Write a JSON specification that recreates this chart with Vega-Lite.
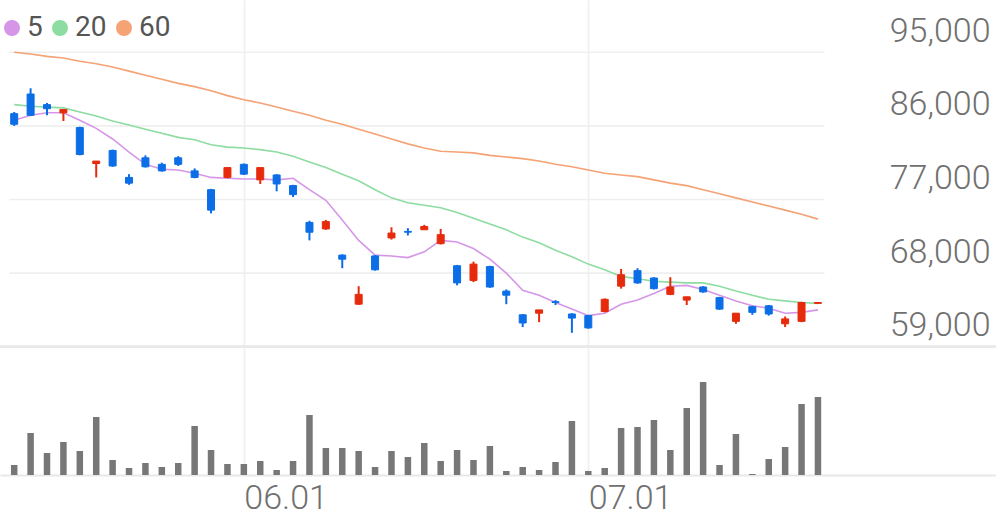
{
  "$schema": "https://vega.github.io/schema/vega-lite/v6.json",
  "width": 996,
  "height": 475,
  "autosize": {"type": "none"},
  "padding": {"left": 0, "top": 0, "right": 0, "bottom": 44},
  "config": {"view": {"stroke": null}, "font": "Roboto"},
  "datasets": {
    "daily": [
      {"i": 0, "date": "2023-05-11", "o": 87500, "h": 87700, "l": 86000, "c": 86200, "v": 1000000, "ma5": 86700, "ma20": 88600, "ma60": 95000},
      {"i": 1, "date": "2023-05-12", "o": 89900, "h": 90600, "l": 87200, "c": 87300, "v": 4200000, "ma5": 87300, "ma20": 88400, "ma60": 94800},
      {"i": 2, "date": "2023-05-15", "o": 88600, "h": 88800, "l": 87300, "c": 88100, "v": 2200000, "ma5": 87600, "ma20": 88300, "ma60": 94500},
      {"i": 3, "date": "2023-05-16", "o": 87600, "h": 88000, "l": 86600, "c": 88000, "v": 3300000, "ma5": 87600, "ma20": 88200, "ma60": 94300},
      {"i": 4, "date": "2023-05-17", "o": 85800, "h": 85900, "l": 82400, "c": 82500, "v": 2400000, "ma5": 86700, "ma20": 87700, "ma60": 93900},
      {"i": 5, "date": "2023-05-18", "o": 81400, "h": 81700, "l": 79700, "c": 81700, "v": 5800000, "ma5": 85700, "ma20": 87200, "ma60": 93600},
      {"i": 6, "date": "2023-05-19", "o": 83000, "h": 83100, "l": 81000, "c": 81100, "v": 1500000, "ma5": 84400, "ma20": 86600, "ma60": 93200},
      {"i": 7, "date": "2023-05-22", "o": 79700, "h": 80100, "l": 78800, "c": 79000, "v": 700000, "ma5": 82800, "ma20": 86100, "ma60": 92700},
      {"i": 8, "date": "2023-05-23", "o": 82100, "h": 82400, "l": 80900, "c": 81000, "v": 1200000, "ma5": 81300, "ma20": 85600, "ma60": 92200},
      {"i": 9, "date": "2023-05-24", "o": 81300, "h": 81500, "l": 80400, "c": 80500, "v": 800000, "ma5": 80700, "ma20": 85100, "ma60": 91700},
      {"i": 10, "date": "2023-05-25", "o": 82100, "h": 82300, "l": 81100, "c": 81300, "v": 1200000, "ma5": 80600, "ma20": 84600, "ma60": 91200},
      {"i": 11, "date": "2023-05-26", "o": 80500, "h": 80800, "l": 79600, "c": 79700, "v": 4900000, "ma5": 80200, "ma20": 84300, "ma60": 90800},
      {"i": 12, "date": "2023-05-30", "o": 78200, "h": 78300, "l": 75300, "c": 75700, "v": 2500000, "ma5": 79700, "ma20": 83700, "ma60": 90300},
      {"i": 13, "date": "2023-05-31", "o": 79700, "h": 80900, "l": 79600, "c": 80900, "v": 1100000, "ma5": 79600, "ma20": 83400, "ma60": 89700},
      {"i": 14, "date": "2023-06-01", "o": 81300, "h": 81400, "l": 80000, "c": 80100, "v": 1100000, "ma5": 79500, "ma20": 83300, "ma60": 89200},
      {"i": 15, "date": "2023-06-02", "o": 79400, "h": 80900, "l": 78900, "c": 80900, "v": 1400000, "ma5": 79500, "ma20": 83100, "ma60": 88800},
      {"i": 16, "date": "2023-06-05", "o": 80000, "h": 80100, "l": 78000, "c": 78900, "v": 500000, "ma5": 79400, "ma20": 82800, "ma60": 88300},
      {"i": 17, "date": "2023-06-07", "o": 78700, "h": 78800, "l": 77300, "c": 77600, "v": 1400000, "ma5": 79600, "ma20": 82300, "ma60": 87800},
      {"i": 18, "date": "2023-06-08", "o": 74200, "h": 74400, "l": 72000, "c": 73000, "v": 6000000, "ma5": 78200, "ma20": 81600, "ma60": 87300},
      {"i": 19, "date": "2023-06-09", "o": 73400, "h": 74500, "l": 73300, "c": 74300, "v": 2700000, "ma5": 76900, "ma20": 80900, "ma60": 86700},
      {"i": 20, "date": "2023-06-12", "o": 70200, "h": 70300, "l": 68600, "c": 69700, "v": 2700000, "ma5": 74500, "ma20": 80100, "ma60": 86200},
      {"i": 21, "date": "2023-06-13", "o": 64200, "h": 66400, "l": 64100, "c": 65400, "v": 2400000, "ma5": 72000, "ma20": 79300, "ma60": 85600},
      {"i": 22, "date": "2023-06-14", "o": 70100, "h": 70200, "l": 68300, "c": 68400, "v": 800000, "ma5": 70200, "ma20": 78200, "ma60": 85000},
      {"i": 23, "date": "2023-06-15", "o": 72300, "h": 73600, "l": 72100, "c": 72900, "v": 2400000, "ma5": 70100, "ma20": 77200, "ma60": 84400},
      {"i": 24, "date": "2023-06-16", "o": 73100, "h": 73500, "l": 72600, "c": 73000, "v": 1800000, "ma5": 69900, "ma20": 76600, "ma60": 83800},
      {"i": 25, "date": "2023-06-19", "o": 73300, "h": 73900, "l": 73300, "c": 73700, "v": 3200000, "ma5": 70600, "ma20": 76300, "ma60": 83300},
      {"i": 26, "date": "2023-06-20", "o": 71600, "h": 73400, "l": 71500, "c": 72700, "v": 1400000, "ma5": 72000, "ma20": 76000, "ma60": 82900},
      {"i": 27, "date": "2023-06-21", "o": 68900, "h": 69000, "l": 66500, "c": 66800, "v": 2500000, "ma5": 71800, "ma20": 75400, "ma60": 82800},
      {"i": 28, "date": "2023-06-22", "o": 67100, "h": 69400, "l": 66900, "c": 69100, "v": 1500000, "ma5": 71000, "ma20": 74700, "ma60": 82700},
      {"i": 29, "date": "2023-06-23", "o": 68800, "h": 68900, "l": 66200, "c": 66300, "v": 2900000, "ma5": 69700, "ma20": 74000, "ma60": 82400},
      {"i": 30, "date": "2023-06-26", "o": 65800, "h": 66000, "l": 64200, "c": 65300, "v": 400000, "ma5": 68000, "ma20": 73300, "ma60": 82200},
      {"i": 31, "date": "2023-06-27", "o": 62900, "h": 63000, "l": 61400, "c": 61900, "v": 800000, "ma5": 65900, "ma20": 72400, "ma60": 82000},
      {"i": 32, "date": "2023-06-28", "o": 63100, "h": 63500, "l": 62000, "c": 63500, "v": 500000, "ma5": 65300, "ma20": 71700, "ma60": 81700},
      {"i": 33, "date": "2023-06-29", "o": 64500, "h": 64700, "l": 64100, "c": 64400, "v": 1300000, "ma5": 64400, "ma20": 70800, "ma60": 81300},
      {"i": 34, "date": "2023-06-30", "o": 63000, "h": 63100, "l": 60700, "c": 62500, "v": 5400000, "ma5": 63600, "ma20": 70000, "ma60": 81000},
      {"i": 35, "date": "2023-07-03", "o": 62800, "h": 62900, "l": 61200, "c": 61300, "v": 400000, "ma5": 62800, "ma20": 69100, "ma60": 80600},
      {"i": 36, "date": "2023-07-04", "o": 63300, "h": 64900, "l": 63200, "c": 64800, "v": 700000, "ma5": 63100, "ma20": 68400, "ma60": 80200},
      {"i": 37, "date": "2023-07-05", "o": 66400, "h": 68500, "l": 66100, "c": 67800, "v": 4700000, "ma5": 64200, "ma20": 67600, "ma60": 80000},
      {"i": 38, "date": "2023-07-06", "o": 68300, "h": 68600, "l": 66700, "c": 66800, "v": 4800000, "ma5": 64700, "ma20": 67300, "ma60": 79800},
      {"i": 39, "date": "2023-07-07", "o": 67400, "h": 67500, "l": 66000, "c": 66100, "v": 5500000, "ma5": 65500, "ma20": 67000, "ma60": 79400},
      {"i": 40, "date": "2023-07-10", "o": 65400, "h": 67500, "l": 65300, "c": 66300, "v": 2500000, "ma5": 66400, "ma20": 66900, "ma60": 79000},
      {"i": 41, "date": "2023-07-11", "o": 64700, "h": 65100, "l": 64100, "c": 65100, "v": 6700000, "ma5": 66500, "ma20": 66800, "ma60": 78700},
      {"i": 42, "date": "2023-07-12", "o": 66300, "h": 66400, "l": 65600, "c": 65700, "v": 9300000, "ma5": 66000, "ma20": 66800, "ma60": 78200},
      {"i": 43, "date": "2023-07-13", "o": 65000, "h": 65100, "l": 63500, "c": 63600, "v": 1000000, "ma5": 65300, "ma20": 66400, "ma60": 77700},
      {"i": 44, "date": "2023-07-14", "o": 62100, "h": 63100, "l": 61800, "c": 63100, "v": 4100000, "ma5": 64600, "ma20": 65800, "ma60": 77200},
      {"i": 45, "date": "2023-07-17", "o": 63900, "h": 64000, "l": 62900, "c": 63200, "v": 100000, "ma5": 64000, "ma20": 65300, "ma60": 76700},
      {"i": 46, "date": "2023-07-18", "o": 64000, "h": 64100, "l": 62800, "c": 63000, "v": 1600000, "ma5": 63700, "ma20": 64800, "ma60": 76200},
      {"i": 47, "date": "2023-07-19", "o": 61800, "h": 62700, "l": 61400, "c": 62400, "v": 2800000, "ma5": 63100, "ma20": 64600, "ma60": 75700},
      {"i": 48, "date": "2023-07-20", "o": 62100, "h": 64500, "l": 62000, "c": 64400, "v": 7100000, "ma5": 63200, "ma20": 64400, "ma60": 75200},
      {"i": 49, "date": "2023-07-21", "o": 64300, "h": 64400, "l": 64300, "c": 64400, "v": 7800000, "ma5": 63500, "ma20": 64300, "ma60": 74600}
    ],
    "ticks": [{"p": 68000}, {"p": 77000}, {"p": 86000}, {"p": 95000}]
  },
  "data": {"name": "daily"},
  "resolve": {"scale": {"y": "independent"}},
  "layer": [
    {
      "layer": [
        {
          "data": {"name": "ticks"},
          "mark": {"type": "rule", "color": "#efefef", "strokeWidth": 1.6},
          "encoding": {
            "y": {
              "field": "p",
              "type": "quantitative",
              "title": null,
              "scale": {"domain": [43312, 101395], "nice": false, "zero": false},
              "axis": {
                "orient": "right",
                "values": [59000, 68000, 77000, 86000, 95000],
                "labelExpr": "format(datum.value, ',')",
                "grid": false,
                "domain": false,
                "ticks": false,
                "labelAlign": "right",
                "labelPadding": -6,
                "labelBaseline": "alphabetic",
                "labelOffset": -11,
                "labelFont": "Roboto",
                "labelFontSize": 34,
                "labelFontWeight": 300,
                "labelColor": "#707070",
                "title": null
              }
            },
            "x": {"datum": -0.3, "type": "quantitative"},
            "x2": {"datum": 49.4}
          }
        },
        {
          "mark": {"type": "rule", "color": "#e9e9e9", "strokeWidth": 2},
          "encoding": {"y": {"datum": 59000, "type": "quantitative"}}
        },
        {
          "transform": [{"fold": ["ma60", "ma20", "ma5"], "as": ["key", "val"]}],
          "mark": {"type": "line", "strokeWidth": 1.6},
          "encoding": {
            "x": {"field": "i", "type": "quantitative", "title": null},
            "y": {"field": "val", "type": "quantitative", "title": null},
            "color": {
              "field": "key",
              "type": "nominal",
              "scale": {"domain": ["ma5", "ma20", "ma60"], "range": ["#d596e8", "#8ddca1", "#f5a275"]},
              "legend": {
                "orient": "none",
                "legendX": -2,
                "legendY": 14,
                "direction": "horizontal",
                "title": null,
                "symbolType": "circle",
                "symbolSize": 64,
                "symbolStrokeWidth": 8,
                "symbolOpacity": 1,
                "labelExpr": "replace(datum.label, 'ma', '')",
                "labelFont": "Roboto",
                "labelFontSize": 28,
                "labelColor": "#555555",
                "labelOffset": 1,
                "columnPadding": -3
              }
            }
          }
        },
        {
          "mark": {"type": "rule", "strokeWidth": 2},
          "encoding": {
            "x": {"field": "i", "type": "quantitative", "title": null},
            "y": {"field": "l", "type": "quantitative", "title": null},
            "y2": {"field": "h"},
            "color": {"condition": {"test": "datum.c > datum.o", "value": "#e62b0c"}, "value": "#0b6ee6"}
          }
        },
        {
          "mark": {"type": "bar", "strokeWidth": 1},
          "encoding": {
            "x": {
              "field": "i",
              "type": "quantitative",
              "title": null,
              "scale": {"domain": [-0.561, 59.55], "nice": false, "zero": false},
              "axis": {
                "values": [14, 35],
                "labelExpr": "datum.value == 14 ? '06.01' : '07.01'",
                "grid": true,
                "gridColor": "#efefef",
                "gridWidth": 1.6,
                "ticks": false,
                "domainColor": "#e8e8e8",
                "domainWidth": 2,
                "labelAlign": "left",
                "labelBaseline": "alphabetic",
                "labelPadding": 33,
                "labelFont": "Roboto",
                "labelFontSize": 34,
                "labelFontWeight": 300,
                "labelColor": "#707070",
                "labelFlush": false,
                "title": null
              }
            },
            "y": {"field": "o", "type": "quantitative", "title": null},
            "y2": {"field": "c"},
            "size": {"value": 7},
            "color": {"condition": {"test": "datum.c > datum.o", "value": "#e62b0c"}, "value": "#0b6ee6"},
            "stroke": {"condition": {"test": "datum.c > datum.o", "value": "#e62b0c"}, "value": "#0b6ee6"}
          }
        }
      ]
    },
    {
      "mark": {"type": "bar", "color": "#777777"},
      "encoding": {
        "x": {"field": "i", "type": "quantitative", "title": null},
        "y": {
          "field": "v",
          "type": "quantitative",
          "scale": {"domain": [0, 47500000], "nice": false},
          "axis": null
        },
        "size": {"value": 6.5}
      }
    }
  ]
}
